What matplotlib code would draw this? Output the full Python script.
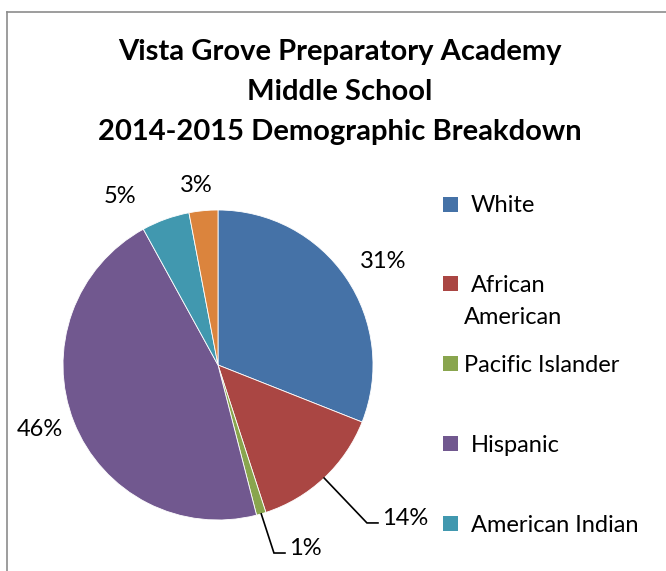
import numpy as np
import matplotlib
matplotlib.use("Agg")
import matplotlib.pyplot as plt
from matplotlib.patches import Rectangle
from matplotlib.lines import Line2D

plt.rcParams['font.family'] = ['Lato', 'DejaVu Sans']

# data
categories = ["White", "African American", "Pacific Islander", "Hispanic",
              "American Indian", "Asian"]
percents = [31, 14, 1, 46, 5, 3]
colors = ["#4572A7", "#AA4643", "#89A54E", "#71588F", "#4198AF", "#DB843D"]
legend_labels = ["White", "African\nAmerican", "Pacific Islander", "Hispanic",
                 "American Indian"]

W, H = 666, 571
fig = plt.figure(figsize=(W / 100, H / 100), dpi=100)
FS = 17

# pie axes: centre (218, 365) px, radius 155 px
cx, cy, r = 218, 365, 155
ax = fig.add_axes([(cx - r) / W, (H - cy - r) / H, 2 * r / W, 2 * r / H])
wedges, _ = ax.pie(percents, colors=colors, startangle=90, counterclock=False,
                   radius=1, wedgeprops=dict(linewidth=0.6, edgecolor="white"))
ax.set_xlim(-1, 1)
ax.set_ylim(-1, 1)
ax.set_aspect("equal")
ax.axis("off")

# data labels (positions in pie units)
label_pos = {
    0: (1.065, 0.665, "center"),
    1: (1.06, -0.99, "left"),
    2: (0.46, -1.185, "left"),
    3: (-1.148, -0.419, "center"),
    4: (-0.632, 1.09, "center"),
    5: (-0.142, 1.155, "center"),
}
bends = {1: (0.961, -1.019, 1.032), 2: (0.361, -1.213, 0.432)}
for i, w in enumerate(wedges):
    x, y, ha = label_pos[i]
    ax.text(x, y, f"{percents[i]}%", ha=ha, va="center", fontsize=FS,
            color="black", clip_on=False)
    if i in bends:
        ang = np.radians((w.theta1 + w.theta2) / 2)
        bx, by, ex = bends[i]
        ax.plot([np.cos(ang), bx, ex], [np.sin(ang), by, by], color="black",
                lw=1.2, clip_on=False, solid_joinstyle="miter")

# title
title_lines = ["Vista Grove Preparatory Academy", "Middle School",
               "2014-2015 Demographic Breakdown"]
for k, line in enumerate(title_lines):
    fig.text(340 / W, 1 - (52 + 40 * k) / H, line, ha="center", va="center",
             fontsize=21, fontweight="bold")

# legend
leg_y = [204, 283, 363, 443, 523]
for k, lab in enumerate(legend_labels):
    y = leg_y[k]
    fig.patches.append(Rectangle((443 / W, 1 - (y + 7.5) / H), 15 / W, 15 / H,
                                 transform=fig.transFigure,
                                 facecolor=colors[k], edgecolor="none"))
    ty = y + 2
    if "\n" in lab:
        a, b = lab.split("\n")
        fig.text(471 / W, 1 - ty / H, a, ha="left", va="center", fontsize=FS)
        fig.text(464 / W, 1 - (ty + 33) / H, b, ha="left", va="center",
                 fontsize=FS)
    else:
        x0 = 464 if lab == "Pacific Islander" else 471
        fig.text(x0 / W, 1 - ty / H, lab, ha="left", va="center", fontsize=FS)

# chart border (cut off at right and bottom)
fig.lines.append(Line2D([7 / W, 7 / W], [0, 1 - 12 / H], transform=fig.transFigure,
                        color="#8c8c8c", lw=1.2))
fig.lines.append(Line2D([7 / W, 1], [1 - 12 / H, 1 - 12 / H],
                        transform=fig.transFigure, color="#8c8c8c", lw=1.2))

fig.savefig("out.png", dpi=100, facecolor="white")
